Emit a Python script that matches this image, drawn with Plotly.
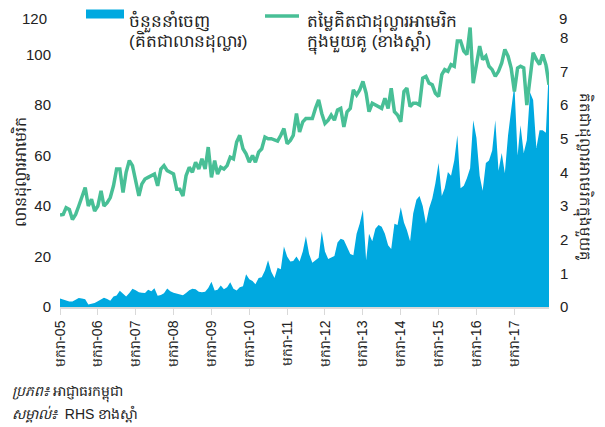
import pandas as pd
import plotly.graph_objects as go

months = pd.date_range("2005-01-01", periods=156, freq="MS")

exports = [
    3.4, 3.0, 2.6, 2.2, 2.2, 2.9, 3.6, 3.4, 3.1, 1.0, 1.2, 1.6,
    2.3, 3.0, 3.7, 3.2, 2.5, 4.2, 4.6, 6.4, 5.1, 4.2, 5.5, 7.2,
    6.6, 5.8, 5.6, 5.5, 6.8, 6.2, 7.4, 4.5, 4.8, 5.4, 7.3, 6.2,
    5.6, 5.2, 4.8, 4.7, 5.5, 6.6, 7.2, 7.0, 6.0, 5.8, 6.0, 7.5,
    10.0, 6.5, 6.8, 8.5, 7.0, 7.8, 9.8, 7.2, 6.5, 7.8, 8.2, 13.0,
    11.0, 10.3, 9.0, 11.5, 11.8, 14.5, 18.5, 14.0, 11.5, 15.5, 15.0, 24.0,
    20.0, 18.0, 18.2, 20.0, 18.0, 22.0, 28.0, 21.0, 17.5, 18.5, 19.5, 30.0,
    22.0, 19.0, 19.5, 20.2, 25.5, 27.0, 26.5, 23.5, 21.0, 20.5, 29.0, 33.0,
    38.5, 18.5, 29.0, 26.0, 31.0, 32.5, 31.8, 29.0, 24.5, 23.0, 33.0, 32.5,
    39.5, 33.5, 30.5, 26.0, 37.0, 42.5, 44.0, 40.0, 33.0, 39.0, 43.0, 49.0,
    57.0, 44.0, 47.0, 53.5, 52.0, 58.0, 68.0, 47.0, 48.0, 51.0, 55.0, 74.0,
    67.0, 52.0, 46.0, 57.0, 58.0, 62.0, 74.0, 54.0, 61.0, 53.0, 68.0, 78.0,
    88.0, 60.0, 72.0, 61.0, 66.0, 85.0, 82.0, 63.0, 70.0, 70.0, 69.0, 96.0,
]

price = [
    2.73, 2.75, 2.95, 2.9, 2.6, 2.75, 3.0, 3.25, 3.55, 3.0, 3.2, 2.85,
    3.0, 3.45, 3.0, 3.1, 3.25, 3.6, 4.1, 4.1, 3.4, 4.0, 4.35, 4.2,
    3.7, 3.3, 3.65, 3.8, 3.85, 3.9, 3.95, 3.6, 4.1, 4.2, 4.05, 4.0,
    3.95, 3.5, 3.5, 3.3, 3.9, 4.15, 4.0, 4.3, 4.1, 4.4, 4.1, 4.75,
    3.85, 4.35, 3.95, 4.15, 4.1, 4.2, 4.45, 4.4, 4.9, 5.1, 4.7, 4.55,
    4.3, 4.5, 4.3, 4.6, 4.7, 5.05, 5.0, 5.0, 4.97, 4.93, 5.1, 5.3,
    4.85, 4.95, 5.1, 5.75, 5.2, 5.5, 5.6, 5.6, 5.6, 5.9, 6.15, 5.75,
    5.45, 5.55, 5.7, 5.55, 5.85, 5.9, 5.35, 5.8, 5.9, 6.45, 6.3, 6.45,
    6.7, 6.35, 5.8, 6.05, 6.0, 5.95, 5.9, 6.2, 5.9, 6.5, 5.8, 5.7,
    5.5, 6.4, 6.5, 5.95, 6.05, 6.05, 6.0, 6.8, 6.85, 6.65, 6.6, 6.35,
    6.25, 6.9, 7.05, 7.0, 7.2, 7.15, 7.9, 7.9, 7.6, 7.5, 8.3, 6.65,
    7.2, 7.75, 7.35, 7.45, 7.15, 7.05, 6.85, 7.0, 7.25, 7.65, 7.45, 7.1,
    6.4, 7.1, 7.15, 7.1, 6.0, 6.9, 7.55, 7.35, 7.2, 7.5, 7.2, 6.6,
]

tick_dates = pd.date_range("2005-01-01", "2017-01-01", freq="YS")
tick_text = ["មករា-%02d" % (d.year % 100) for d in tick_dates]

left_ticks = [0, 20, 40, 60, 80, 100, 120]
right_ticks = list(range(0, 10))
left_max, right_max = 120, 9

legend_exports = ["ចំនួននាំចេញ", "(គិតជាលានដុល្លារ)"]
legend_price = ["តម្លៃគិតជាដុល្លារអាមេរិក", "ក្នុងមួយគូ (ខាងស្តាំ)"]
left_title = "លានដុល្លារអាមេរិក"
right_title = "គិតជាដុល្លារអាមេរិកក្នុងមួយគូ"
note1 = "<i>ប្រភព៖</i> អាជ្ញាធរកម្ពុជា"
note2 = "<i>សម្គាល់៖</i>  RHS ខាងស្តាំ"

BLUE = "#00A9E0"
GREEN = "#48BF96"
TXT = "#222222"
FONT = "Liberation Sans, Arial, sans-serif"

# page offset of the figure inside the browser page (body margin)
OFF = 8
W, H = 605, 427
# plot box as seen on screen
SL, SR, ST, SB = 60, 549, 4, 307
unit_px = (SB - ST)
FL, FR, FB = SL - OFF, SR - OFF, SB - OFF
FT = max(ST - OFF, 0)
PW, PH = FR - FL, FB - FT
y_top = left_max * PH / unit_px
y2_top = right_max * PH / unit_px


def px(xs):
    return (xs - OFF - FL) / PW


def py(ys):
    return (FB - (ys - OFF)) / PH


fig = go.Figure()
fig.add_trace(go.Scatter(
    x=months, y=exports, mode="lines", fill="tozeroy",
    line=dict(width=0, color=BLUE), fillcolor=BLUE,
    name=legend_exports[0], showlegend=False, yaxis="y",
))
fig.add_trace(go.Scatter(
    x=months, y=price, mode="lines",
    line=dict(width=3.5, color=GREEN),
    name=legend_price[0], showlegend=False, yaxis="y2",
))

fig.update_layout(
    width=W, height=H,
    margin=dict(l=FL, r=W - FR, t=FT, b=H - FB),
    paper_bgcolor="white", plot_bgcolor="white",
    font=dict(family=FONT, size=15, color=TXT),
    xaxis=dict(
        range=[months[0], months[-1]], automargin=False,
        tickvals=tick_dates, ticktext=tick_text, tickangle=-90,
        tickfont=dict(size=14),
        showgrid=False, showline=True, linecolor="#d9d9d9", linewidth=2,
        ticks="outside", ticklen=6, tickcolor="#d9d9d9", tickwidth=1,
        zeroline=False,
    ),
    yaxis=dict(
        range=[0, y_top], tickvals=left_ticks, showgrid=False, zeroline=False,
        showline=False, ticks="", ticklabelstandoff=8, automargin=False,
        tickfont=dict(size=15),
    ),
    yaxis2=dict(
        range=[0, y2_top], tickvals=right_ticks, overlaying="y", side="right",
        showgrid=False, zeroline=False, showline=False, ticks="",
        ticklabelstandoff=10, automargin=False, tickfont=dict(size=15),
    ),
)

# top tick labels, kept inside the visible area
fig.add_annotation(text=str(left_max), xref="paper", yref="paper",
                   x=px(49), y=1, xanchor="right", yanchor="top",
                   showarrow=False, font=dict(size=15, color=TXT))
fig.add_annotation(text=str(right_max), xref="paper", yref="paper",
                   x=px(557), y=1, xanchor="left", yanchor="top",
                   showarrow=False, font=dict(size=15, color=TXT))

# legend drawn manually
fig.add_shape(type="rect", xref="paper", yref="paper",
              x0=px(86), x1=px(124), y0=py(18.5), y1=py(9.5),
              fillcolor=BLUE, line=dict(width=0))
fig.add_shape(type="line", xref="paper", yref="paper",
              x0=px(265), x1=px(299), y0=py(16), y1=py(16),
              line=dict(color=GREEN, width=3.5))
fig.add_annotation(text=legend_exports[0], xref="paper", yref="paper",
                   x=px(127), y=1, xanchor="left", yanchor="top",
                   showarrow=False, font=dict(size=17, color=TXT))
fig.add_annotation(text=legend_exports[1], xref="paper", yref="paper",
                   x=px(127), y=py(41), xanchor="left", yanchor="middle",
                   showarrow=False, font=dict(size=17, color=TXT))
fig.add_annotation(text=legend_price[0], xref="paper", yref="paper",
                   x=px(305), y=1, xanchor="left", yanchor="top",
                   showarrow=False, font=dict(size=17, color=TXT))
fig.add_annotation(text=legend_price[1], xref="paper", yref="paper",
                   x=px(305), y=py(42), xanchor="left", yanchor="middle",
                   showarrow=False, font=dict(size=17, color=TXT))

# axis titles
fig.add_annotation(text=left_title, xref="paper", yref="paper",
                   x=px(8), y=py(172), textangle=-90,
                   xanchor="left", yanchor="middle", showarrow=False,
                   font=dict(size=16, color=TXT))
fig.add_annotation(text=right_title, xref="paper", yref="paper",
                   x=px(584), y=py(177), textangle=90,
                   xanchor="center", yanchor="middle", showarrow=False,
                   font=dict(size=15, color=TXT))

# notes
fig.add_annotation(text=note1, xref="paper", yref="paper",
                   x=px(10), y=py(393),
                   xanchor="left", yanchor="middle", align="left",
                   showarrow=False, font=dict(size=14, color=TXT))
fig.add_annotation(text=note2, xref="paper", yref="paper",
                   x=px(10), y=py(414),
                   xanchor="left", yanchor="middle", align="left",
                   showarrow=False, font=dict(size=14, color=TXT))

fig.write_html("out.html")
